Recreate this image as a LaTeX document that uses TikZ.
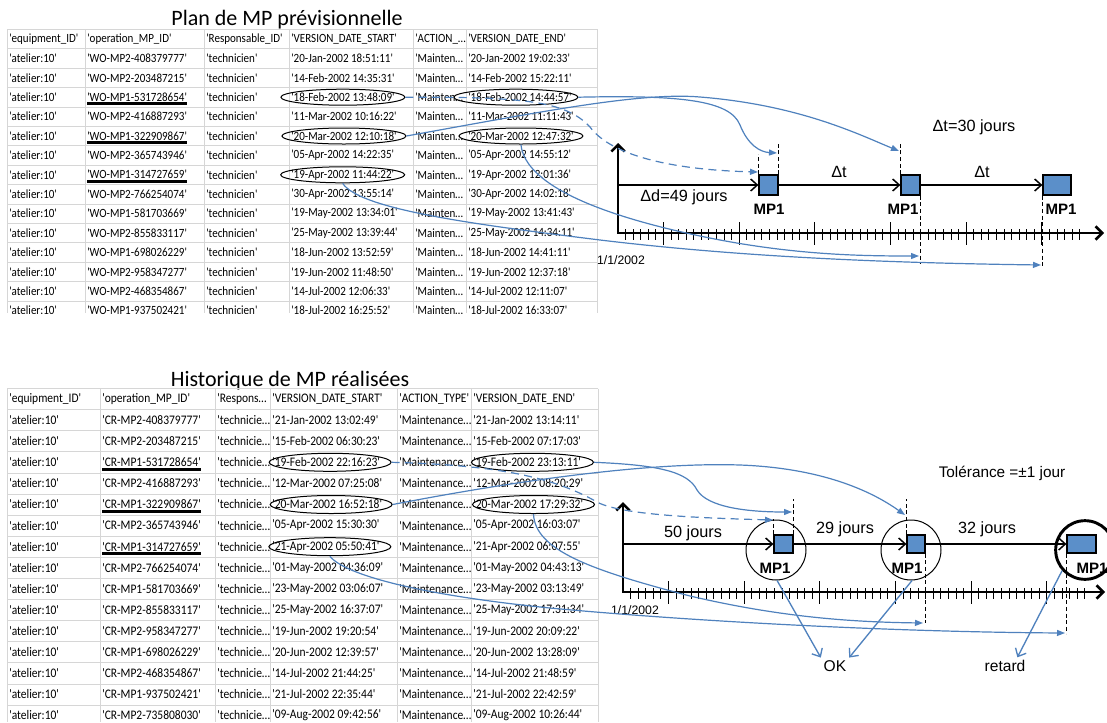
\documentclass[tikz,border=0pt]{standalone}
\usepackage{fontspec}
\setmainfont{Liberation Sans}
\newfontfamily\tabfont[Ligatures=TeXOff]{Carlito}
\usepackage{xcolor}
\usetikzlibrary{arrows.meta, shapes.geometric}
\definecolor{lienBleu}{HTML}{4F81BD}
\definecolor{boiteBleu}{HTML}{5B8FC9}
\definecolor{grilleGris}{HTML}{D6D6D6}
\newcommand{\etroit}[1]{\scalebox{0.88}[1.0]{#1}}

\begin{document}
\begin{tikzpicture}[x=0.75pt, y=-0.75pt,
    cellule/.style={anchor=west, inner sep=0pt, font=\tabfont\fontsize{9.4}{11}\selectfont},
    celluleb/.style={cellule, font=\tabfont\fontsize{9.8}{11}\selectfont},
    titre/.style={inner sep=0pt, font=\tabfont\fontsize{16.5}{19}\selectfont},
    grille/.style={draw=grilleGris, line width=0.5pt},
    ovale/.style={draw, ellipse, line width=0.75pt, inner sep=0pt, minimum width=93pt, minimum height=12pt},
    souligne/.style={line width=2.2pt},
    axe/.style={line width=1.9pt, {Straight Barb[length=5pt,width=10pt]}-{Straight Barb[length=5pt,width=10pt]}},
    graduation/.style={line width=0.7pt},
    mpbox/.style={draw, fill=boiteBleu, line width=0.9pt, inner sep=0pt, minimum height=15pt},
    fleche/.style={line width=1.1pt, -{Straight Barb[length=5pt,width=9pt]}},
    repere/.style={line width=0.6pt, dash pattern=on 3pt off 2pt},
    lien/.style={lienBleu, line width=0.9pt, -{Triangle[length=6pt,width=4.5pt]}},
    lienpointille/.style={lien, dash pattern=on 6pt off 4pt},
    verdict/.style={lienBleu, line width=1pt, -{Straight Barb[length=5pt,width=9pt]}},
    etiq/.style={inner sep=0pt, font=\fontsize{12.2}{14}\selectfont},
    mplabel/.style={inner sep=0pt, font=\bfseries\fontsize{11.3}{13}\selectfont},
    datelbl/.style={inner sep=0pt, font=\fontsize{9.2}{11}\selectfont}]

\useasboundingbox (0,0) rectangle (1107,722);

% ---------- plan previsionnel ----------
\node[titre] (tplan) at (287,20) {Plan de MP prévisionnelle};
\begin{scope}
    \clip (0,0) rectangle (600,313);
    \foreach \r in {0,...,14}
        \draw[grille] (7,29.3+19.4*\r) -- (597,29.3+19.4*\r);
    \foreach \c in {7,85,204,289,413,466,597}
        \draw[grille] (\c,29.3) -- (\c,313);
    \node[cellule] (ph1) at (9,39) {\etroit{'equipment\_ID'}};
    \node[cellule] (ph2) at (87,39) {\etroit{'operation\_MP\_ID'}};
    \node[cellule] (ph3) at (206,39) {\etroit{'Responsable\_ID'}};
    \node[cellule] (ph4) at (291,39) {\etroit{'VERSION\_DATE\_START'}};
    \node[cellule] (ph5) at (415,39) {\etroit{'ACTION\_…}};
    \node[cellule] (ph6) at (468,39) {\etroit{'VERSION\_DATE\_END'}};
    \foreach \op/\ds/\de [count=\n] in {
        WO-MP2-408379777/20-Jan-2002 18:51:11/20-Jan-2002 19:02:33,
        WO-MP2-203487215/14-Feb-2002 14:35:31/14-Feb-2002 15:22:11,
        WO-MP1-531728654/18-Feb-2002 13:48:09/18-Feb-2002 14:44:57,
        WO-MP2-416887293/11-Mar-2002 10:16:22/11-Mar-2002 11:11:43,
        WO-MP1-322909867/20-Mar-2002 12:10:18/20-Mar-2002 12:47:32,
        WO-MP2-365743946/05-Apr-2002 14:22:35/05-Apr-2002 14:55:12,
        WO-MP1-314727659/19-Apr-2002 11:44:22/19-Apr-2002 12:01:36,
        WO-MP2-766254074/30-Apr-2002 13:55:14/30-Apr-2002 14:02:18,
        WO-MP1-581703669/19-May-2002 13:34:01/19-May-2002 13:41:43,
        WO-MP2-855833117/25-May-2002 13:39:44/25-May-2002 14:34:11,
        WO-MP1-698026229/18-Jun-2002 13:52:59/18-Jun-2002 14:41:11,
        WO-MP2-958347277/19-Jun-2002 11:48:50/19-Jun-2002 12:37:18,
        WO-MP2-468354867/14-Jul-2002 12:06:33/14-Jul-2002 12:11:07,
        WO-MP1-937502421/18-Jul-2002 16:25:52/18-Jul-2002 16:33:07} {
        \node[cellule] (pe\n) at (9,39+19.4*\n) {\etroit{'atelier:10'}};
        \node[cellule] (po\n) at (87,39+19.4*\n) {\etroit{'\op'}};
        \node[cellule] (pr\n) at (206,39+19.4*\n) {\etroit{'technicien'}};
        \node[cellule] (ps\n) at (291,39+19.4*\n) {\etroit{'\ds'}};
        \node[cellule] (pa\n) at (415,39+19.4*\n) {\etroit{'Mainten…}};
        \node[cellule] (pf\n) at (468,39+19.4*\n) {\etroit{'\de'}};
    }
\end{scope}
\foreach \n in {3,5,7}
    \draw[souligne] ([yshift=-1.5pt]po\n.south west) -- ([yshift=-1.5pt]po\n.south east);
\node[ovale] (e1) at (ps3) {};
\node[ovale] (e2) at ([xshift=-3pt]pf3.center) {};
\node[ovale] (e3) at (ps5) {};
\node[ovale] (e4) at (pf5) {};
\node[ovale] (e5) at (ps7) {};

% ---------- axe du haut ----------
\coordinate (yh) at (618,143);
\coordinate (xh) at (1104,233);
\draw[axe] (yh) |- (xh);
\foreach \k in {1,...,61}
    \draw[graduation] (618+7.57*\k,229) -- (618+7.57*\k,240);
\foreach \k in {6,16,...,56}
    \draw[graduation] (618+7.57*\k,222) -- (618+7.57*\k,245);
\node[datelbl] (dh) at (621,260) {1/1/2002};

\node[mpbox, minimum width=14.25pt] (mh1) at (768.5,185) {};
\node[mpbox, minimum width=14.25pt] (mh2) at (910.5,185) {};
\node[mpbox, minimum width=21pt] (mh3) at (1057,185) {};
\coordinate (sh) at (618,185);
\draw[fleche] (sh) -- (mh1.west);
\draw[fleche] (mh1.east) -- (mh2.west);
\draw[fleche] (mh2.east) -- (mh3.west);

\node[mplabel] (lh1) at (769,209) {MP1};
\node[mplabel] (lh2) at (903,209) {MP1};
\node[mplabel] (lh3) at (1061,209) {MP1};
\node[etiq] (dd) at (684,197) {Δd=49 jours};
\node[etiq] (dt1) at (839,172) {Δt};
\node[etiq] (dt2) at (982,172) {Δt};
\node[etiq] (dt0) at (974,127) {Δt=30 jours};

\draw[repere] (mh1.north west) -- ++(0,-20);
\draw[repere] (mh1.north east) -- ++(0,-33);
\draw[repere] (mh2.north west) -- ++(0,-33);
\draw[repere] (mh2.south east) -- ++(0,68);
\draw[repere] (mh3.south west) -- ++(0,72);

\coordinate (ha) at (758,172);
\coordinate (hb) at (777,153);
\coordinate (hc) at (899,151);
\coordinate (hd) at (919,256);
\coordinate (he) at (1041,265);
\draw[lienpointille] (e1.east) .. controls (520,97) and (565,100) .. (590,127)
    .. controls (613,158) and (680,170) .. (ha);
\draw[lien] (e2.east) .. controls (680,95) and (730,100) .. (740,125)
    .. controls (748,145) and (760,152) .. (hb);
\draw[lien] (e3.east) .. controls (540,112) and (640,92) .. (700,97)
    .. controls (800,105) and (860,135) .. (hc);
\draw[lien] (e4.south) .. controls (525,185) and (600,215) .. (700,236)
    .. controls (790,255) and (860,256) .. (hd);
\draw[lien] (e5.south) .. controls (360,210) and (480,225) .. (600,240)
    .. controls (750,258) and (900,263) .. (he);

% ---------- historique realise ----------
\node[titre] (thist) at (290,381) {Historique de MP réalisées};
\foreach \r in {0,...,15}
    \draw[grille] (7,388.5+21.1*\r) -- (598,388.5+21.1*\r);
\foreach \c in {7,100,215,270,397,471,598}
    \draw[grille] (\c,388.5) -- (\c,722);
\node[celluleb] (bh1) at (9,399) {\etroit{'equipment\_ID'}};
\node[celluleb] (bh2) at (102,399) {\etroit{'operation\_MP\_ID'}};
\node[celluleb] (bh3) at (217,399) {\etroit{'Respons…}};
\node[celluleb] (bh4) at (272,399) {\etroit{'VERSION\_DATE\_START'}};
\node[celluleb] (bh5) at (399,399) {\etroit{'ACTION\_TYPE'}};
\node[celluleb] (bh6) at (473,399) {\etroit{'VERSION\_DATE\_END'}};
\foreach \op/\ds/\de [count=\n] in {
    CR-MP2-408379777/21-Jan-2002 13:02:49/21-Jan-2002 13:14:11,
    CR-MP2-203487215/15-Feb-2002 06:30:23/15-Feb-2002 07:17:03,
    CR-MP1-531728654/19-Feb-2002 22:16:23/19-Feb-2002 23:13:11,
    CR-MP2-416887293/12-Mar-2002 07:25:08/12-Mar-2002 08:20:29,
    CR-MP1-322909867/20-Mar-2002 16:52:18/20-Mar-2002 17:29:32,
    CR-MP2-365743946/05-Apr-2002 15:30:30/05-Apr-2002 16:03:07,
    CR-MP1-314727659/21-Apr-2002 05:50:41/21-Apr-2002 06:07:55,
    CR-MP2-766254074/01-May-2002 04:36:09/01-May-2002 04:43:13,
    CR-MP1-581703669/23-May-2002 03:06:07/23-May-2002 03:13:49,
    CR-MP2-855833117/25-May-2002 16:37:07/25-May-2002 17:31:34,
    CR-MP2-958347277/19-Jun-2002 19:20:54/19-Jun-2002 20:09:22,
    CR-MP1-698026229/20-Jun-2002 12:39:57/20-Jun-2002 13:28:09,
    CR-MP2-468354867/14-Jul-2002 21:44:25/14-Jul-2002 21:48:59,
    CR-MP1-937502421/21-Jul-2002 22:35:44/21-Jul-2002 22:42:59,
    CR-MP2-735808030/09-Aug-2002 09:42:56/09-Aug-2002 10:26:44} {
    \node[celluleb] (be\n) at (9,399+21.1*\n) {\etroit{'atelier:10'}};
    \node[celluleb] (bo\n) at (102,399+21.1*\n) {\etroit{'\op'}};
    \node[celluleb] (br\n) at (217,399+21.1*\n) {\etroit{'technicie…}};
    \node[celluleb] (bs\n) at (272,399+21.1*\n) {\etroit{'\ds'}};
    \node[celluleb] (ba\n) at (399,399+21.1*\n) {\etroit{'Maintenance…}};
    \node[celluleb] (bf\n) at (473,399+21.1*\n) {\etroit{'\de'}};
}
\foreach \n in {3,5,7}
    \draw[souligne] ([yshift=-1.5pt]bo\n.south west) -- ([yshift=-1.5pt]bo\n.south east);
\node[ovale, minimum width=91.5pt, minimum height=13.5pt] (f1) at ([xshift=3pt]bs3.center) {};
\node[ovale, minimum width=91.5pt, minimum height=13.5pt] (f2) at ([xshift=4pt]bf3.center) {};
\node[ovale, minimum width=91.5pt, minimum height=13.5pt] (f3) at ([xshift=3pt]bs5.center) {};
\node[ovale, minimum width=91.5pt, minimum height=13.5pt] (f4) at ([xshift=4pt]bf5.center) {};
\node[ovale, minimum width=91.5pt, minimum height=13.5pt] (f5) at ([xshift=3pt]bs7.center) {};

% ---------- axe du bas ----------
\coordinate (yb) at (623,502);
\coordinate (xb) at (1105,592);
\draw[axe] (yb) |- (xb);
\foreach \k in {1,...,61}
    \draw[graduation] (623+7.57*\k,588) -- (623+7.57*\k,599);
\foreach \k in {6,16,...,56}
    \draw[graduation] (623+7.57*\k,581) -- (623+7.57*\k,604);
\node[datelbl] (db) at (635,610) {1/1/2002};

\node[draw, circle, minimum size=45pt, line width=0.75pt] (cb1) at (776,550) {};
\node[draw, circle, minimum size=45pt, line width=0.75pt] (cb2) at (911,550) {};
\node[draw, circle, minimum size=44pt, line width=2.2pt] (cb3) at (1085,550) {};

\node[mpbox, minimum width=14.25pt, minimum height=13.5pt] (mb1) at (783.5,544) {};
\node[mpbox, minimum width=13.5pt, minimum height=13.5pt] (mb2) at (916,544) {};
\node[mpbox, minimum width=21.75pt, minimum height=13.5pt] (mb3) at (1081.5,544) {};
\coordinate (sb) at (623,544);
\draw[fleche] (sb) -- (mb1.west);
\draw[fleche] (mb1.east) -- (mb2.west);
\draw[fleche] (mb2.east) -- (mb3.west);

\node[mplabel] (lb1) at (775,568) {MP1};
\node[mplabel] (lb2) at (907,568) {MP1};
\node[mplabel] (lb3) at (1092,568) {MP1};
\node[etiq] (j50) at (693,533) {50 jours};
\node[etiq] (j29) at (845,529) {29 jours};
\node[etiq] (j32) at (987,529) {32 jours};
\node[etiq, font=\fontsize{11.5}{13}\selectfont] (tol) at (1002,473) {Tolérance =±1 jour};

\draw[repere] (mb1.north west) -- ++(0,-15);
\draw[repere] (mb1.north east) -- ++(0,-35);
\draw[repere] (mb2.north west) -- ++(0,-35);
\draw[repere] (mb2.south east) -- ++(0,69);
\draw[repere] (mb3.south west) -- ++(0,80);

\coordinate (ua) at (773,520);
\coordinate (ub) at (792,512);
\coordinate (uc) at (905,515);
\coordinate (ud) at (923,623);
\coordinate (ue) at (1065,633);
\draw[lienpointille] (f1.east) .. controls (500,465) and (555,478) .. (597,502)
    .. controls (621,515) and (700,518) .. (ua);
\draw[lien] (f2.east) .. controls (660,465) and (688,472) .. (697,490)
    .. controls (708,508) and (750,512) .. (ub);
\draw[lien] (f3.east) .. controls (520,480) and (650,462) .. (740,465)
    .. controls (820,468) and (870,490) .. (uc);
\draw[lien] (f4.south) .. controls (535,550) and (590,570) .. (690,596)
    .. controls (780,617) and (850,622) .. (ud);
\draw[lien] (f5.south) .. controls (345,575) and (420,595) .. (550,608)
    .. controls (700,622) and (900,632) .. (ue);

\node[inner sep=2pt, font=\fontsize{11.7}{13}\selectfont] (ok) at (835,666) {OK};
\node[inner sep=2pt, font=\fontsize{11.7}{13}\selectfont] (rt) at (1005,666) {retard};
\draw[verdict] (cb1.-88) -- (ok.north west);
\draw[verdict] (cb2.-88) -- (ok.north east);
\draw[verdict] (cb3.222) -- (rt.35);
\end{tikzpicture}
\end{document}
